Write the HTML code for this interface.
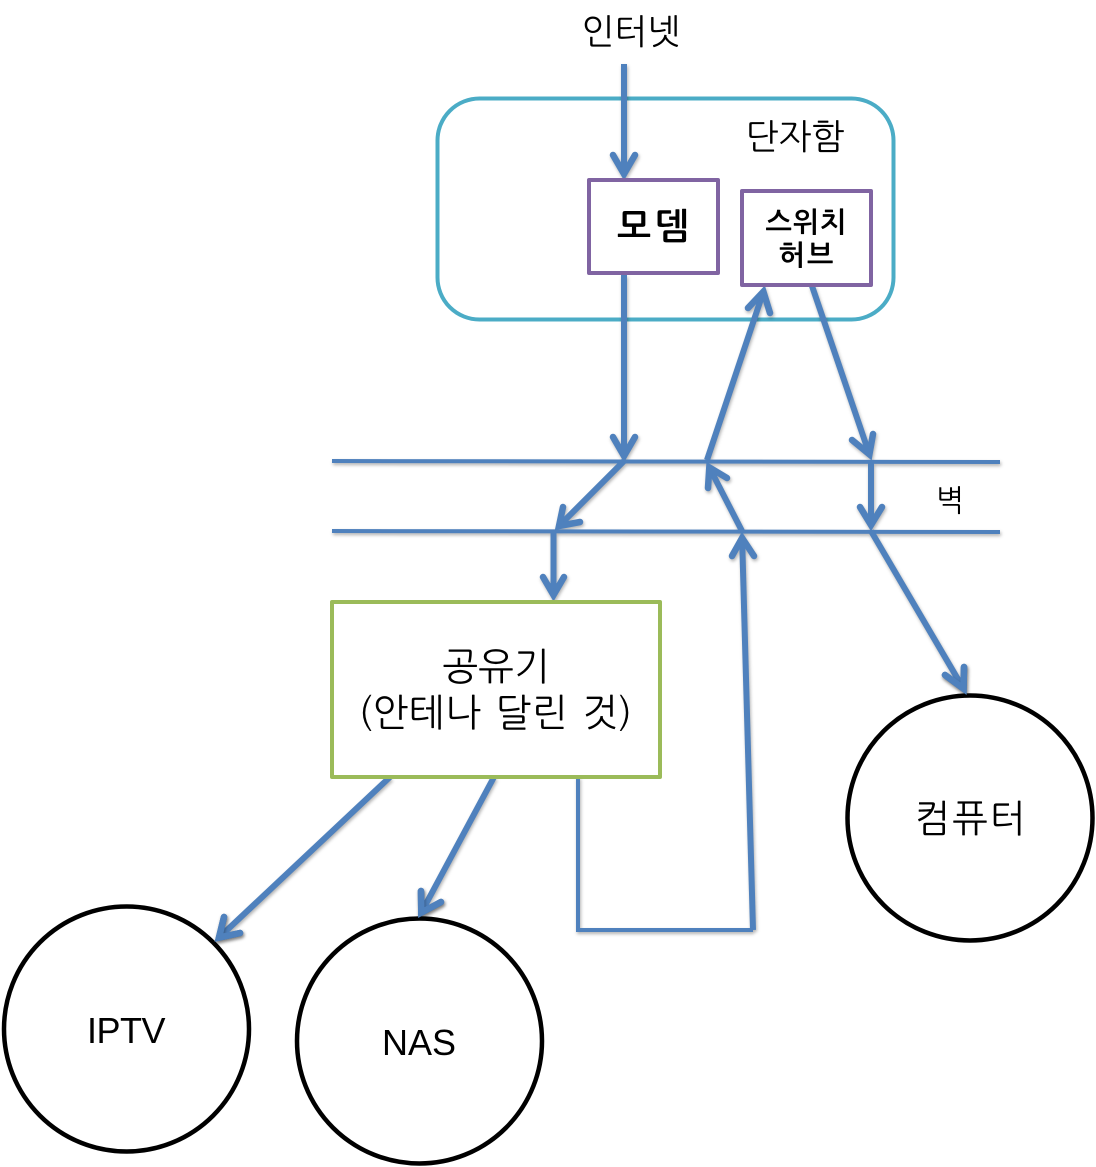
<!DOCTYPE html>
<html><head><meta charset="utf-8">
<style>
html,body{margin:0;padding:0;background:#fff}
svg{display:block}
text{font-family:"Liberation Sans","NanumGothic","Noto Sans CJK KR",sans-serif;fill:#000;text-anchor:middle}
.k{font-family:"NanumGothic","Noto Sans CJK KR",sans-serif}
.l{stroke:#4f81bd;stroke-width:6;fill:none;stroke-linecap:butt}
.t{stroke:#4f81bd;stroke-width:4;fill:none}
.a{stroke:#4f81bd;stroke-width:6.500;fill:none;stroke-linecap:round;stroke-linejoin:miter;stroke-miterlimit:10}
.c{stroke:#000;stroke-width:4.500;fill:#fff}
</style></head>
<body>
<svg width="1096" height="1167" viewBox="0 0 1096 1167" xmlns="http://www.w3.org/2000/svg">
<defs>
<filter id="s" x="-5%" y="-5%" width="110%" height="110%" filterUnits="objectBoundingBox" color-interpolation-filters="sRGB">
<feDropShadow dx="1" dy="2" stdDeviation="1.500" flood-color="#000" flood-opacity="0.300"/>
</filter>
</defs>
<text class="k" x="631" y="44" font-size="35">인터넷</text>
<rect x="437.500" y="98.500" width="456" height="221" rx="42" fill="none" stroke="#4bacc6" stroke-width="4"/>
<text class="k" x="795" y="149" font-size="35">단자함</text>

<g filter="url(#s)">
<line x1="332" y1="461" x2="1000" y2="462" class="t"/>
<line x1="332" y1="531" x2="1000" y2="532" class="t"/>

<line x1="624" y1="64" x2="624" y2="174" class="l"/>
<path d="M613 155L624 174L635 155" class="a"/>
<line x1="624" y1="275" x2="624" y2="456" class="l"/>
<path d="M613 437L624 456L635 437" class="a"/>
<line x1="624" y1="461" x2="559" y2="526" class="l"/>
<path d="M563 507L559 526L580 522" class="a"/>
<line x1="553.500" y1="531" x2="553.500" y2="595" class="l"/>
<path d="M543 577L553.500 595L564 577" class="a"/>

<line x1="707" y1="460" x2="763.400" y2="291.700" class="l"/>
<path d="M748 308L763.400 291.700L770 313" class="a"/>
<line x1="812" y1="286" x2="869.400" y2="454.300" class="l"/>
<path d="M852 440L869.400 454.300L873 434" class="a"/>
<line x1="871" y1="461" x2="871" y2="525" class="l"/>
<path d="M860 507L871 525L882 507" class="a"/>
<line x1="871" y1="531" x2="963.500" y2="688.700" class="l"/>
<path d="M945 675L963.500 688.700L964 667" class="a"/>
<line x1="742" y1="531" x2="709.300" y2="467.400" class="l"/>
<path d="M708 488L709.300 467.400L727 478" class="a"/>
<path d="M578 777V930H753" class="t"/>
<line x1="753" y1="930" x2="742.100" y2="538" class="l"/>
<path d="M732 556L742.100 538L754 556" class="a"/>

<line x1="390" y1="777" x2="219" y2="937.600" class="l"/>
<path d="M224 917L219 937.600L240 933" class="a"/>
<line x1="494" y1="777" x2="421.300" y2="912.600" class="l"/>
<path d="M421 891L421.300 912.600L441 902" class="a"/>
</g>

<rect x="589" y="180" width="129" height="93" fill="#fff" stroke="#8064a2" stroke-width="4" stroke-linejoin="round"/>
<text class="k" x="655" y="239" font-size="36" font-weight="bold" letter-spacing="4">모뎀</text>
<rect x="742" y="191" width="129" height="94" fill="#fff" stroke="#8064a2" stroke-width="4" stroke-linejoin="round"/>
<text class="k" x="806.500" y="232" font-size="28" font-weight="bold" letter-spacing="1">스위치</text>
<text class="k" x="807" y="265" font-size="28" font-weight="bold" letter-spacing="2">허브</text>
<text class="k" x="950" y="511" font-size="30">벽</text>

<rect x="332" y="602" width="328" height="175" fill="#fff" stroke="#9bbb59" stroke-width="4" stroke-linejoin="round"/>
<text class="k" x="496" y="680" font-size="38">공유기</text>
<text class="k" x="495.500" y="726" font-size="38" letter-spacing="0.500" word-spacing="3">(안테나 달린 것)</text>

<circle cx="970" cy="818" r="122.500" class="c"/>
<text class="k" x="971" y="832" font-size="38" letter-spacing="2">컴퓨터</text>
<circle cx="126.500" cy="1029" r="122.500" class="c"/>
<text x="126" y="1043" font-size="36" letter-spacing="-0.500">IPTV</text>
<circle cx="419.500" cy="1041" r="122.500" class="c"/>
<text x="419" y="1055" font-size="36">NAS</text>

<g filter="url(#s)">
<path d="M224 917L219 937.600L240 933" class="a"/>
<path d="M421 891L421.300 912.600L441 902" class="a"/>
<path d="M945 675L963.500 688.700L964 667" class="a"/>
</g>
</svg>
</body></html>
